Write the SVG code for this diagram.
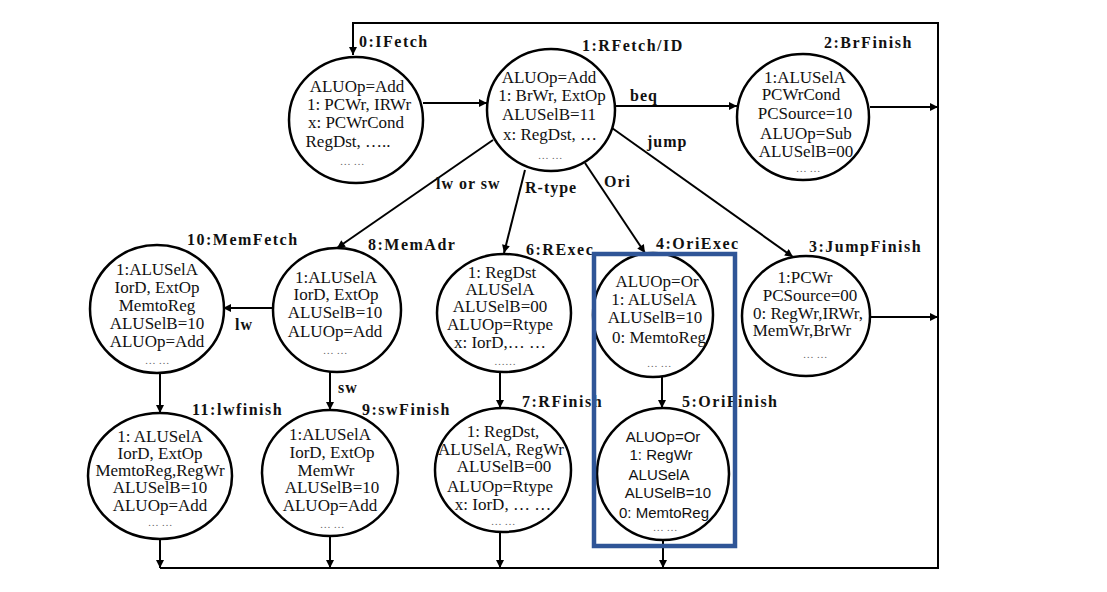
<svg xmlns="http://www.w3.org/2000/svg" width="1107" height="592" viewBox="0 0 1107 592">
<style>
.node ellipse{fill:#fff;stroke:#000;stroke-width:2.5}
.node text{font-family:"Liberation Serif","Times New Roman",serif;font-size:17px;text-anchor:middle;fill:#111}
.node text.dots{font-size:11px;fill:#666}
.node text.sans{font-family:"Liberation Sans",Arial,sans-serif;font-size:15px}
.node text.lbl{font-size:16px;font-weight:bold;letter-spacing:1.5px;text-anchor:start}
.elbl{font-family:"Liberation Serif","Times New Roman",serif;font-size:16px;font-weight:bold;letter-spacing:1px;fill:#111}
#connectors path{fill:none;stroke:#000;stroke-width:2}
</style>
<defs>
<marker id="ah" viewBox="0 0 10 10" refX="10" refY="5" markerWidth="9" markerHeight="8" markerUnits="userSpaceOnUse" orient="auto">
<path d="M0,0 L10,5 L0,10 z" fill="#000"/>
</marker>
</defs>
<rect width="1107" height="592" fill="#fff"/>

<g id="connectors">
<path d="M160,568 H938 V23 H353 V55" marker-end="url(#ah)"/>
<path d="M423,103 H487" marker-end="url(#ah)"/>
<path d="M615,106 H737" marker-end="url(#ah)"/>
<path d="M612,128 L793,257" marker-end="url(#ah)"/>
<path d="M585,163 L645,253" marker-end="url(#ah)"/>
<path d="M525,170 L504,253" marker-end="url(#ah)"/>
<path d="M493,140 L337,248" marker-end="url(#ah)"/>
<path d="M273,308 H223" marker-end="url(#ah)"/>
<path d="M330,372 V410" marker-end="url(#ah)"/>
<path d="M160,373 V413" marker-end="url(#ah)"/>
<path d="M500,372 V408" marker-end="url(#ah)"/>
<path d="M662,377 V408" marker-end="url(#ah)"/>
<path d="M870,107 H938" marker-end="url(#ah)"/>
<path d="M870,317 H938" marker-end="url(#ah)"/>
<path d="M160,539 V568" marker-end="url(#ah)"/>
<path d="M330,536 V568" marker-end="url(#ah)"/>
<path d="M500,532 V568" marker-end="url(#ah)"/>
<path d="M663,540 V568" marker-end="url(#ah)"/>
<text class="elbl" x="630" y="101">beq</text>
<text class="elbl" x="647" y="147">jump</text>
<text class="elbl" x="604" y="187">Ori</text>
<text class="elbl" x="525" y="193">R-type</text>
<text class="elbl" x="436" y="189">lw or sw</text>
<text class="elbl" x="235" y="330">lw</text>
<text class="elbl" x="338" y="393">sw</text>
</g>

<g id="n0" class="node">
<ellipse cx="356" cy="120" rx="67" ry="63"/>
<text x="357" y="92">ALUOp=Add</text>
<text x="359" y="110">1: PCWr, IRWr</text>
<text x="356" y="128">x: PCWrCond</text>
<text x="348" y="147">RegDst, …..</text>
<text class="dots" x="352" y="165">… …</text>
<text class="lbl" x="359" y="47">0:IFetch</text>
</g>

<g id="n1" class="node">
<ellipse cx="551" cy="110" rx="64" ry="61"/>
<text x="549" y="83">ALUOp=Add</text>
<text x="552" y="101">1: BrWr, ExtOp</text>
<text x="549" y="120">ALUSelB=11</text>
<text x="550" y="140">x: RegDst, …</text>
<text class="dots" x="550" y="159">… …</text>
<text class="lbl" x="582" y="51">1:RFetch/ID</text>
</g>

<g id="n2" class="node">
<ellipse cx="803" cy="117" rx="66" ry="63"/>
<text x="805" y="83">1:ALUSelA</text>
<text x="801" y="100">PCWrCond</text>
<text x="805" y="119">PCSource=10</text>
<text x="806" y="139">ALUOp=Sub</text>
<text x="806" y="157">ALUSelB=00</text>
<text class="dots" x="808" y="172">… …</text>
<text class="lbl" x="824" y="48">2:BrFinish</text>
</g>

<g id="n10" class="node">
<ellipse cx="157" cy="309" rx="67" ry="64"/>
<text x="157" y="275">1:ALUSelA</text>
<text x="157" y="293">IorD, ExtOp</text>
<text x="157" y="311">MemtoReg</text>
<text x="157" y="329">ALUSelB=10</text>
<text x="157" y="347">ALUOp=Add</text>
<text class="dots" x="157" y="364">… …</text>
<text class="lbl" x="187" y="245">10:MemFetch</text>
</g>

<g id="n8" class="node">
<ellipse cx="337" cy="310" rx="64" ry="62"/>
<text x="336" y="283">1:ALUSelA</text>
<text x="336" y="300">IorD, ExtOp</text>
<text x="335" y="318">ALUSelB=10</text>
<text x="335" y="337">ALUOp=Add</text>
<text class="dots" x="335" y="354">… …</text>
<text class="lbl" x="368" y="250">8:MemAdr</text>
</g>

<g id="n6" class="node">
<ellipse cx="504" cy="313" rx="67" ry="59"/>
<text x="502" y="278">1: RegDst</text>
<text x="500" y="295">ALUSelA</text>
<text x="500" y="312">ALUSelB=00</text>
<text x="500" y="330">ALUOp=Rtype</text>
<text x="500" y="348">x: IorD,… …</text>
<text class="dots" x="505" y="365">……</text>
<text class="lbl" x="526" y="255">6:RExec</text>
</g>

<g id="n4" class="node">
<ellipse cx="653" cy="315" rx="60" ry="62"/>
<text x="657" y="287">ALUOp=Or</text>
<text x="654" y="305">1: ALUSelA</text>
<text x="655" y="323">ALUSelB=10</text>
<text x="659" y="343">0: MemtoReg</text>
<text class="dots" x="659" y="367">… …</text>
<text class="lbl" x="656" y="249">4:OriExec</text>
</g>

<g id="n3" class="node">
<ellipse cx="806" cy="316" rx="64" ry="60"/>
<text x="805" y="283">1:PCWr</text>
<text x="810" y="301">PCSource=00</text>
<text x="808" y="319">0: RegWr,IRWr,</text>
<text x="802" y="336">MemWr,BrWr</text>
<text class="dots" x="815" y="358">… …</text>
<text class="lbl" x="809" y="252">3:JumpFinish</text>
</g>

<g id="n11" class="node">
<ellipse cx="160" cy="476" rx="72" ry="63"/>
<text x="160" y="442">1: ALUSelA</text>
<text x="160" y="459">IorD, ExtOp</text>
<text x="160" y="476">MemtoReg,RegWr</text>
<text x="160" y="493">ALUSelB=10</text>
<text x="160" y="511">ALUOp=Add</text>
<text class="dots" x="160" y="526">… …</text>
<text class="lbl" x="192" y="415">11:lwfinish</text>
</g>

<g id="n9" class="node">
<ellipse cx="330" cy="473" rx="68" ry="63"/>
<text x="330" y="440">1:ALUSelA</text>
<text x="332" y="458">IorD, ExtOp</text>
<text x="326" y="476">MemWr</text>
<text x="332" y="493">ALUSelB=10</text>
<text x="330" y="511">ALUOp=Add</text>
<text class="dots" x="332" y="528">… …</text>
<text class="lbl" x="362" y="415">9:swFinish</text>
</g>

<g id="n7" class="node">
<ellipse cx="503" cy="470" rx="68" ry="62"/>
<text x="503" y="437">1: RegDst,</text>
<text x="501" y="455">ALUSelA, RegWr</text>
<text x="504" y="472">ALUSelB=00</text>
<text x="500" y="492">ALUOp=Rtype</text>
<text x="503" y="510">x: IorD, … …</text>
<text class="dots" x="503" y="525">… …</text>
<text class="lbl" x="522" y="407">7:RFinish</text>
</g>

<g id="n5" class="node">
<ellipse cx="663" cy="474" rx="66" ry="66"/>
<text class="sans" x="663" y="442">ALUOp=Or</text>
<text class="sans" x="661" y="460">1: RegWr</text>
<text class="sans" x="659" y="480">ALUSelA</text>
<text class="sans" x="668" y="498">ALUSelB=10</text>
<text class="sans" x="664" y="518">0: MemtoReg</text>
<text class="dots" x="665" y="531">… …</text>
<text class="lbl" x="682" y="407">5:OriFinish</text>
</g>

<g id="highlight">
<rect x="594" y="254" width="141" height="292" fill="none" stroke="#2F5597" stroke-width="4.5"/>
</g>
</svg>
